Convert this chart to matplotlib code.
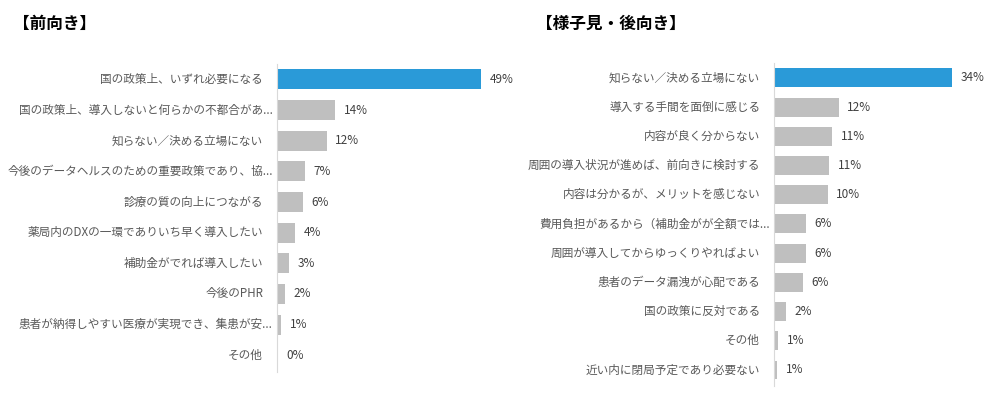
import matplotlib.pyplot as plt

plt.rcParams["font.family"] = ["Noto Sans CJK JP", "DejaVu Sans"]

# %% data
pos_labels = [
    "国の政策上、いずれ必要になる",
    "国の政策上、導入しないと何らかの不都合があ...",
    "知らない／決める立場にない",
    "今後のデータヘルスのための重要政策であり、協...",
    "診療の質の向上につながる",
    "薬局内のDXの一環でありいち早く導入したい",
    "補助金がでれば導入したい",
    "今後のPHR",
    "患者が納得しやすい医療が実現でき、集患が安...",
    "その他",
]
pos_values = [49, 14, 12, 6.7, 6.2, 4.3, 2.9, 1.9, 1.0, 0.3]
pos_text = ["49%", "14%", "12%", "7%", "6%", "4%", "3%", "2%", "1%", "0%"]

neg_labels = [
    "知らない／決める立場にない",
    "導入する手間を面倒に感じる",
    "内容が良く分からない",
    "周囲の導入状況が進めば、前向きに検討する",
    "内容は分かるが、メリットを感じない",
    "費用負担があるから（補助金がが全額では...",
    "周囲が導入してからゆっくりやればよい",
    "患者のデータ漏洩が心配である",
    "国の政策に反対である",
    "その他",
    "近い内に閉局予定であり必要ない",
]
neg_values = [34, 12.4, 11.1, 10.6, 10.3, 6.1, 6.1, 5.6, 2.3, 0.8, 0.6]
neg_text = ["34%", "12%", "11%", "11%", "10%", "6%", "6%", "6%", "2%", "1%", "1%"]

BLUE = "#2A9AD8"
GRAY = "#BFBFBF"
TEXT = "#404040"


# %%
def draw_panel(ax, labels, values, texts, xmax):
    n = len(values)
    colors = [BLUE] + [GRAY] * (n - 1)
    ax.barh(range(n), values, height=0.65, color=colors)
    for i, (v, t) in enumerate(zip(values, texts)):
        ax.annotate(t, (v, i), xytext=(6, 0), textcoords="offset points",
                    va="center", ha="left", fontsize=8.5, color=TEXT)
    # category labels, truncated ones sit closer to the axis like in Excel
    for i, lab in enumerate(labels):
        pad = 3 if lab.endswith("...") else 10
        ax.annotate(lab, (0, i), xycoords=("axes fraction", "data"),
                    xytext=(-pad, 0), textcoords="offset points",
                    va="center", ha="right", fontsize=8.4, color="#595959")
    ax.set_yticks([])
    ax.set_xticks([])
    ax.set_xlim(0, xmax)
    ax.set_ylim(n - 0.45, -0.5)
    for side in ["top", "right", "bottom"]:
        ax.spines[side].set_visible(False)
    ax.spines["left"].set_color("#D9D9D9")


fig = plt.figure(figsize=(10, 3.98), dpi=100)

ax1 = fig.add_axes([0.277, 0.065, 0.25, 0.774])
draw_panel(ax1, pos_labels, pos_values, pos_text, 60)

ax2 = fig.add_axes([0.774, 0.03, 0.2, 0.811])
draw_panel(ax2, neg_labels, neg_values, neg_text, 38.2)

fig.text(0.013, 0.94, "【前向き】", fontsize=12, fontweight="bold",
         va="center", ha="left", color="#000000")
fig.text(0.536, 0.94, "【様子見・後向き】", fontsize=12, fontweight="bold",
         va="center", ha="left", color="#000000")

fig.savefig("out.png", dpi=100)
